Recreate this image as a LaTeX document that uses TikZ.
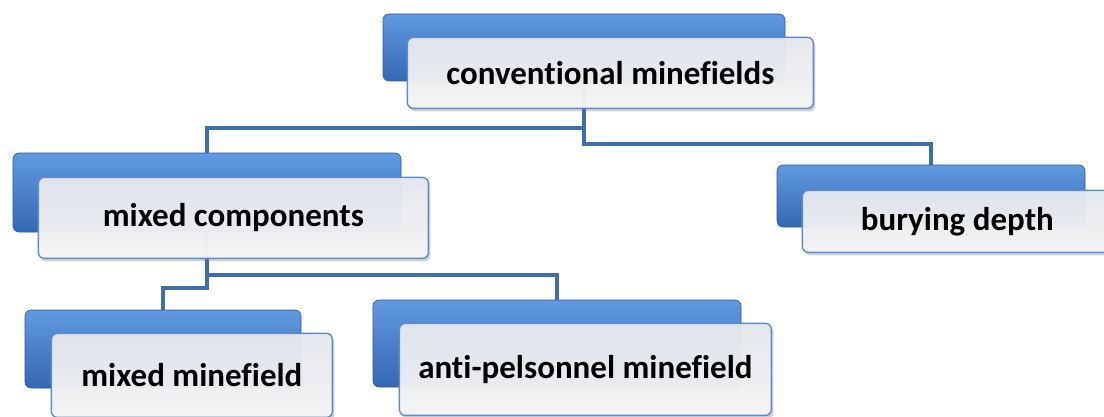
\documentclass[tikz,border=0pt]{standalone}
\usepackage{fontspec}
\setmainfont{Carlito}[Ligatures=NoCommon]
\usetikzlibrary{shadows}
\definecolor{backtop}{RGB}{96,154,224}
\definecolor{backbot}{RGB}{52,104,180}
\definecolor{linkblue}{RGB}{62,110,172}
\definecolor{frontedge}{RGB}{92,140,205}
\definecolor{fronttop}{RGB}{229,232,238}
\definecolor{frontbot}{RGB}{246,246,246}
\tikzset{
  backbox/.style={rounded corners=6pt, draw=backbot!85!black, line width=0.6pt,
    top color=backtop, bottom color=backbot, inner sep=0pt},
  frontbox/.style={rounded corners=6pt, draw=frontedge, line width=1.4pt,
    top color=fronttop, bottom color=frontbot, fill opacity=0.96, text opacity=1,
    drop shadow={shadow xshift=2pt, shadow yshift=-3pt, opacity=0.3, fill=black!60},
    font=\fontsize{33}{38}\selectfont\bfseries, inner sep=0pt, anchor=north west},
  link/.style={draw=linkblue, line width=4pt}
}
\begin{document}
\begin{tikzpicture}[x=1pt,y=1pt]
\useasboundingbox (0,0) rectangle (1104,416);
\node[backbox, minimum width=402pt, minimum height=67pt] (topback) at (584,368.5) {};
\node[backbox, minimum width=388pt, minimum height=79pt] (midback) at (207,223.5) {};
\node[backbox, minimum width=308pt, minimum height=62pt] (buryback) at (931,220) {};
\node[backbox, minimum width=276pt, minimum height=78pt] (mixfback) at (163,67) {};
\node[backbox, minimum width=368pt, minimum height=87pt] (antiback) at (557,72.5) {};
\draw[link] (topback.south) -- ++(0,-47) -| (midback.north);
\draw[link] (topback.south) -- ++(0,-63) -| (buryback.north);
\draw[link] (midback.south) -- ++(0,-43) -| (antiback.north);
\draw[link] (midback.south) -- ++(0,-56) -| (mixfback.north);
\node[frontbox, minimum width=406pt, minimum height=71pt] (top) at ([shift={(24,-23)}]topback.north west) {conventional minefields};
\node[frontbox, minimum width=390pt, minimum height=81pt] (mid) at ([shift={(25,-24)}]midback.north west) {mixed components};
\node[frontbox, minimum width=310pt, minimum height=62pt] (bury) at ([shift={(25,-25)}]buryback.north west) {burying depth};
\node[frontbox, minimum width=281pt, minimum height=84pt] (mixf) at ([shift={(26,-23)}]mixfback.north west) {mixed minefield};
\node[frontbox, minimum width=372pt, minimum height=92pt] (anti) at ([shift={(26,-23)}]antiback.north west) {anti-pelsonnel minefield};
\end{tikzpicture}
\end{document}
